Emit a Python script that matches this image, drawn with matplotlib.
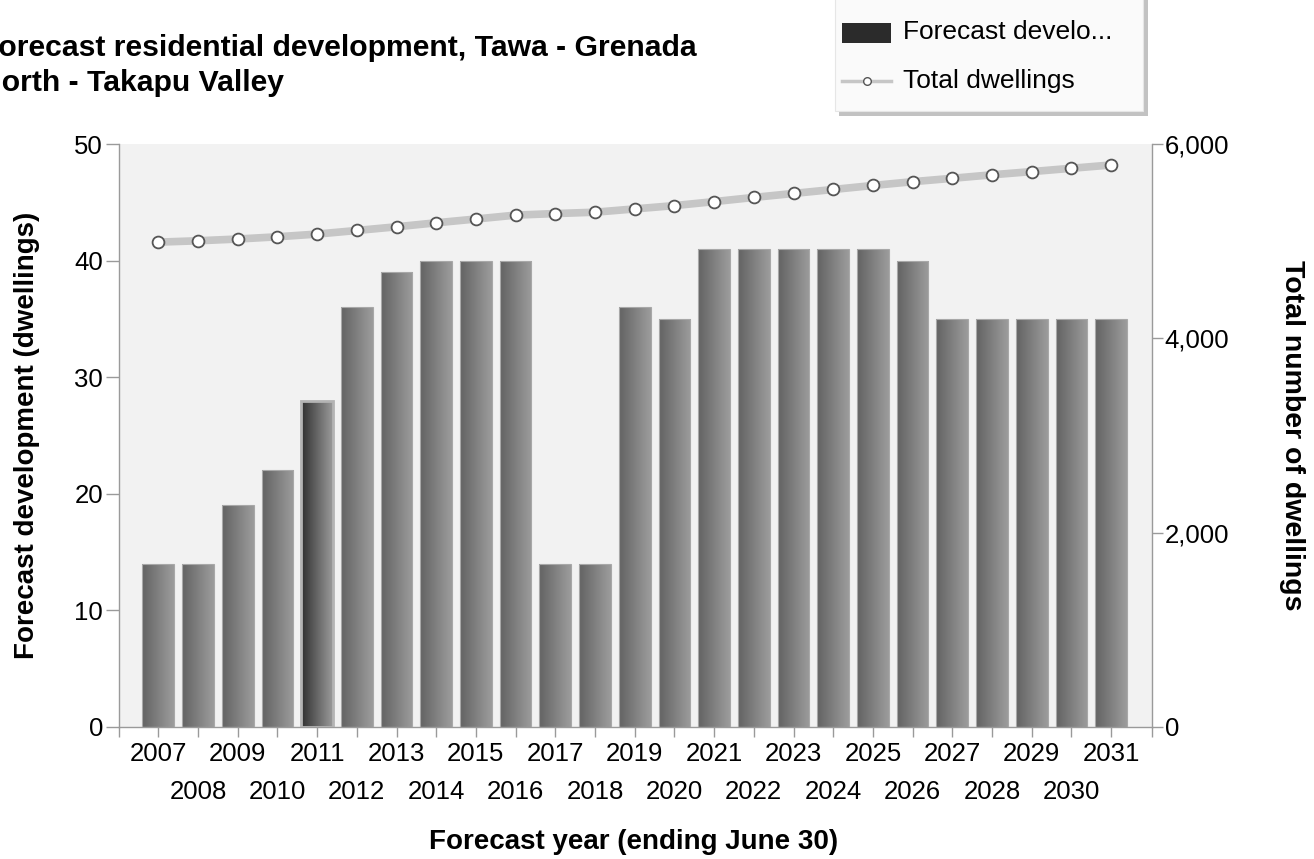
import numpy as np
import matplotlib.pyplot as plt
from matplotlib.colors import LinearSegmentedColormap
from matplotlib.patches import Rectangle
from matplotlib.lines import Line2D
from matplotlib.transforms import blended_transform_factory

plt.rcParams['font.family'] = ['Liberation Sans', 'DejaVu Sans']

years = list(range(2007, 2032))
development = [14, 14, 19, 22, 28, 36, 39, 40, 40, 40, 14, 14, 36, 35,
               41, 41, 41, 41, 41, 40, 35, 35, 35, 35, 35]
total_dwellings = [4990, 5004, 5022, 5045, 5073, 5110, 5148, 5189, 5228, 5268,
                   5284, 5298, 5332, 5366, 5407, 5450, 5491, 5532, 5573, 5612,
                   5647, 5683, 5716, 5750, 5784]
highlight_year = 2011

left_ticks = [0, 10, 20, 30, 40, 50]
right_ticks = [0, 2000, 4000, 6000]

fig = plt.figure(figsize=(13.14, 8.59), dpi=100)
W, H = 1314, 859
ax = fig.add_axes([119 / W, 1 - 727 / H, (1152 - 119) / W, (727 - 144) / H])
ax.set_facecolor('#f2f2f2')

x = np.arange(len(years))
bar_w = 0.8
ax.set_xlim(-0.99, len(years) - 1 + 1.03)
ax.set_ylim(0, 50)

normal_cmap = LinearSegmentedColormap.from_list('bar', ['#636363', '#9c9c9c'])
hi_cmap = LinearSegmentedColormap.from_list('hibar', ['#303030', '#9a9a9a'])
grad = np.linspace(0, 1, 64).reshape(1, -1)

bars = ax.bar(x, development, width=bar_w, color='none', edgecolor='none', zorder=2)
for xi, yr, rect in zip(x, years, bars):
    x0, h = rect.get_x(), rect.get_height()
    cmap = hi_cmap if yr == highlight_year else normal_cmap
    im = ax.imshow(grad, cmap=cmap, aspect='auto', extent=(x0, x0 + bar_w, 0, h),
                   zorder=2, interpolation='bilinear')
    im.set_clip_path(rect)
    ec = '#b4b4b4' if yr == highlight_year else '#a8a8a8'
    lw = 2.0 if yr == highlight_year else 0.8
    ax.add_patch(Rectangle((x0, 0), bar_w, h, fill=False, edgecolor=ec, lw=lw, zorder=3))

# ticks at each bar centre plus both axis ends; odd years on the first row
tick_pos = [ax.get_xlim()[0]] + list(x) + [ax.get_xlim()[1]]
tick_lab = [''] + [str(y) if (y - years[0]) % 2 == 0 else '' for y in years] + ['']
ax.set_xticks(tick_pos)
ax.set_xticklabels(tick_lab, fontsize=18.5)
ax.set_yticks(left_ticks)
ax.set_yticklabels([str(t) for t in left_ticks], fontsize=18.5)
ax.tick_params(axis='x', length=7.5, color='#9a9a9a', pad=3.5, width=1)
ax.tick_params(axis='y', length=9.5, color='#9a9a9a', pad=2, width=1)

# even years on a second row below
trans = blended_transform_factory(ax.transData, fig.transFigure)
for xi, yr in zip(x, years):
    if (yr - years[0]) % 2 == 1:
        ax.text(xi, 1 - 792 / H, str(yr), transform=trans, ha='center', va='center',
                fontsize=18.5, clip_on=False)

for s in ['top', 'right']:
    ax.spines[s].set_visible(False)
for s in ['left', 'bottom']:
    ax.spines[s].set_color('#9a9a9a')
    ax.spines[s].set_linewidth(1)

ax2 = ax.twinx()
ax2.set_ylim(0, 6000)
ax2.set_yticks(right_ticks)
ax2.set_yticklabels([f'{t:,}' for t in right_ticks], fontsize=18.5)
ax2.tick_params(axis='y', length=8, color='#9a9a9a', pad=1, width=1)
for s in ['top', 'left', 'bottom']:
    ax2.spines[s].set_visible(False)
ax2.spines['right'].set_color('#9a9a9a')
ax2.spines['right'].set_linewidth(1)
ax2.plot(x, total_dwellings, color='#c6c6c6', lw=5.5, marker='o', markersize=8.5,
         markerfacecolor='white', markeredgecolor='#555555', markeredgewidth=1.3,
         zorder=5, solid_capstyle='round')

fig.text(27 / W, 1 - 435 / H, 'Forecast development (dwellings)', rotation=90,
         ha='center', va='center', fontsize=20, fontweight='bold')
fig.text(1292 / W, 1 - 435 / H, 'Total number of dwellings', rotation=-90,
         ha='center', va='center', fontsize=20.5, fontweight='bold')
fig.text(634 / W, 1 - 842 / H, 'Forecast year (ending June 30)',
         ha='center', va='center', fontsize=20, fontweight='bold')

fig.text(-20 / W, 1 - 48 / H, 'Forecast residential development, Tawa - Grenada',
         ha='left', va='center', fontsize=21.7, fontweight='bold')
fig.text(-20 / W, 1 - 83 / H, 'North - Takapu Valley',
         ha='left', va='center', fontsize=21.7, fontweight='bold')

# legend box with drop shadow
fig.patches.append(Rectangle((839 / W, 1 - 116 / H), (1148 - 839) / W, 130 / H,
                             transform=fig.transFigure, facecolor='#9a9a9a',
                             edgecolor='none', alpha=0.6, zorder=9))
fig.patches.append(Rectangle((835 / W, 1 - 111 / H), (1143 - 835) / W, 130 / H,
                             transform=fig.transFigure, facecolor='#fafafa',
                             edgecolor='#e6e6e6', lw=0.8, zorder=10))
fig.patches.append(Rectangle((842 / W, 1 - 43 / H), (891 - 842) / W, 20 / H,
                             transform=fig.transFigure, facecolor='#2b2b2b',
                             edgecolor='none', zorder=11))
fig.lines.append(Line2D([842 / W, 891 / W], [1 - 81 / H, 1 - 81 / H],
                        transform=fig.transFigure, color='#c6c6c6', lw=2.5, zorder=11))
fig.lines.append(Line2D([866.5 / W], [1 - 81 / H], transform=fig.transFigure,
                        marker='o', markersize=5.5, markerfacecolor='white',
                        markeredgecolor='#555555', markeredgewidth=1, zorder=12))
fig.text(903 / W, 1 - 32 / H, 'Forecast develo...', ha='left', va='center',
         fontsize=19, zorder=12)
fig.text(903 / W, 1 - 81 / H, 'Total dwellings', ha='left', va='center',
         fontsize=19, zorder=12)

fig.savefig('out.png', dpi=100)
